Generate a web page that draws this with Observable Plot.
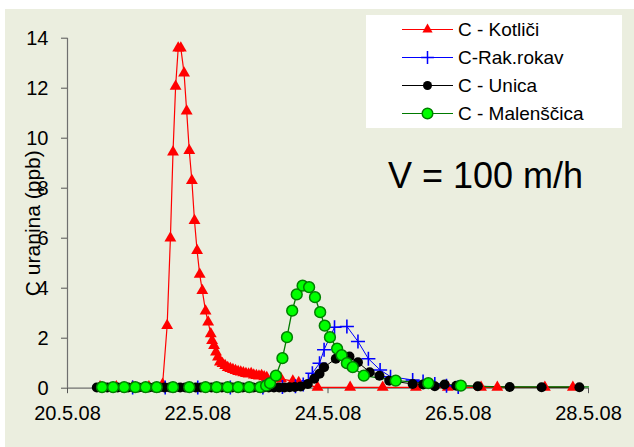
<!DOCTYPE html>
<html><head><meta charset="utf-8">
<script src="https://cdn.jsdelivr.net/npm/d3@7"></script>
<script src="https://cdn.jsdelivr.net/npm/@observablehq/plot@0.6"></script>
<style>
body{margin:0;background:#fff;font-family:"Liberation Sans",Arial,sans-serif;}
#wrap{position:absolute;left:5px;top:9px;width:629px;height:438px;background:#EBEEDF;overflow:hidden}
#wrap svg{position:absolute;left:0;top:0}
</style></head><body><div id="wrap"></div>
<script>
// x = days since 20.5.08 00:00
const xTicks = [0, 2, 4, 6, 8];
const xTickLabels = ["20.5.08", "22.5.08", "24.5.08", "26.5.08", "28.5.08"];
const yTicks = [0, 2, 4, 6, 8, 10, 12, 14];
const yLabel = "C uranina (ppb)";
const annotation = "V = 100 m/h";
const seriesNames = ["C - Kotliči", "C-Rak.rokav", "C - Unica", "C - Malenščica"];

const redT = [0.50, 0.75, 1.00, 1.25, 1.46, 1.53, 1.58, 1.62, 1.66, 1.70, 1.74, 1.79, 1.83, 1.87, 1.91, 1.95, 1.99, 2.03, 2.07, 2.12, 2.16, 2.20, 2.22, 2.25, 2.28, 2.31, 2.34, 2.38, 2.42, 2.46, 2.50, 2.54, 2.58, 2.62, 2.66, 2.70, 2.74, 2.78, 2.82, 2.86, 2.90, 2.94, 2.98, 3.02, 3.06, 3.15, 3.28, 3.46, 3.55, 3.84, 4.34, 4.84, 5.35, 5.84, 6.35, 6.60, 7.33, 7.76];
const redV = [0.05, 0.05, 0.05, 0.05, 0.15, 2.5, 6.0, 9.44, 12.07, 13.6, 13.6, 12.6, 11.08, 9.5, 8.3, 6.7, 5.5, 4.55, 3.9, 3.08, 2.64, 2.17, 1.9, 1.7, 1.44, 1.24, 1.04, 0.98, 0.9, 0.82, 0.78, 0.74, 0.7, 0.66, 0.64, 0.61, 0.58, 0.56, 0.58, 0.52, 0.5, 0.48, 0.5, 0.45, 0.42, 0.36, 0.37, 0.28, 0.22, 0.03, 0.03, 0.03, 0.03, 0.03, 0.03, 0.03, 0.03, 0.03];

const blueT = [1.0, 1.5, 2.0, 2.5, 3.0, 3.3, 3.5, 3.62, 3.70, 3.76, 3.87, 3.94, 4.10, 4.29, 4.46, 4.62, 4.80, 4.96, 5.30, 5.46, 5.64, 5.82, 6.0];
const blueV = [0.03, 0.03, 0.03, 0.03, 0.03, 0.05, 0.08, 0.15, 0.3, 0.6, 1.0, 1.54, 2.44, 2.47, 1.87, 1.18, 0.73, 0.46, 0.33, 0.27, 0.17, 0.1, 0.05];

const blackT = [0.45, 0.53, 0.61, 0.69, 0.77, 0.85, 0.93, 1.01, 1.09, 1.17, 1.25, 1.33, 1.41, 1.49, 1.57, 1.65, 1.73, 1.81, 1.89, 1.97, 2.05, 2.13, 2.21, 2.29, 2.37, 2.45, 2.53, 2.61, 2.69, 2.77, 2.85, 2.93, 3.01, 3.09, 3.17, 3.25, 3.33, 3.41, 3.49, 3.58, 3.69, 3.79, 3.87, 3.94, 4.12, 4.33, 4.46, 4.64, 4.79, 4.94, 5.30, 5.46, 5.64, 5.79, 5.97, 6.30, 6.79, 7.28, 7.86];
const blackV = [0.03, 0.03, 0.03, 0.03, 0.03, 0.03, 0.03, 0.03, 0.03, 0.03, 0.03, 0.03, 0.03, 0.03, 0.03, 0.03, 0.03, 0.03, 0.03, 0.03, 0.03, 0.03, 0.03, 0.03, 0.03, 0.03, 0.03, 0.03, 0.03, 0.03, 0.03, 0.03, 0.03, 0.03, 0.03, 0.03, 0.03, 0.04, 0.05, 0.07, 0.17, 0.38, 0.58, 0.84, 1.18, 1.27, 1.04, 0.64, 0.5, 0.3, 0.17, 0.15, 0.08, 0.15, 0.1, 0.08, 0.05, 0.04, 0.04];

const greenT = [0.53, 0.70, 0.87, 1.04, 1.20, 1.37, 1.62, 1.87, 2.12, 2.29, 2.46, 2.62, 2.79, 2.96, 3.05, 3.11, 3.20, 3.30, 3.37, 3.45, 3.52, 3.61, 3.71, 3.80, 3.88, 3.95, 4.03, 4.14, 4.21, 4.29, 4.38, 4.55, 5.04, 5.54, 6.04];
const greenV = [0.04, 0.04, 0.04, 0.04, 0.04, 0.04, 0.04, 0.04, 0.04, 0.04, 0.04, 0.04, 0.04, 0.04, 0.1, 0.2, 0.5, 1.2, 2.04, 3.1, 3.75, 4.1, 4.04, 3.64, 3.04, 2.5, 2.04, 1.58, 1.32, 1.0, 0.84, 0.5, 0.3, 0.2, 0.1];
// line-only continuation of the Malenščica series (no markers shown)
const greenTailT = [6.54, 7.04, 7.54, 8.0];
const greenTailV = [0.05, 0.05, 0.05, 0.05];

const zip = (T, V) => T.map((t, i) => ({t, v: V[i]}));
const red = zip(redT, redV), blue = zip(blueT, blueV), black = zip(blackT, blackV);
const green = zip(greenT, greenV), greenLine = zip(greenT.concat(greenTailT), greenV.concat(greenTailV));

const FONT = "Liberation Sans, Arial, sans-serif";
const chart = Plot.plot({
  width: 629, height: 438,
  marginLeft: 62, marginRight: 46, marginTop: 28.7, marginBottom: 59.3,
  style: {background: "transparent", fontFamily: FONT, color: "#000", overflow: "visible"},
  x: {domain: [0, 8]},
  y: {domain: [0, 14]},
  marks: [
    Plot.ruleY([0], {stroke: "#6f6f6f", strokeWidth: 1.2}),
    Plot.ruleX([0], {stroke: "#6f6f6f", strokeWidth: 1.2}),
    Plot.axisX({ticks: xTicks, tickFormat: d => xTickLabels[xTicks.indexOf(d)], tickSize: 5.5, tickPadding: 12, stroke: "#555", fill: "#000", fontSize: 20, label: null}),
    Plot.axisY({ticks: yTicks, tickSize: 6, tickPadding: 13, stroke: "#555", fill: "#000", fontSize: 20, label: null}),
    Plot.text([yLabel], {frameAnchor: "left", rotate: -90, lineAnchor: "top", textAnchor: "middle", dx: -42, dy: 10, fontSize: 21, fill: "#000"}),
    Plot.line(red, {x: "t", y: "v", stroke: "#ff0000", strokeWidth: 1.2}),
    Plot.line(blue, {x: "t", y: "v", stroke: "#0000ff", strokeWidth: 1}),
    Plot.line(black, {x: "t", y: "v", stroke: "#000000", strokeWidth: 1}),
    Plot.line(greenLine, {x: "t", y: "v", stroke: "#007a00", strokeWidth: 1.3}),
    Plot.dot(red, {x: "t", y: "v", symbol: "triangle", r: 4.4, fill: "#ff0000"}),
    Plot.dot(blue, {x: "t", y: "v", symbol: "plus", r: 4.6, stroke: "#0000ff", strokeWidth: 1.6}),
    Plot.dot(black, {x: "t", y: "v", symbol: "circle", r: 5, fill: "#000000"}),
    Plot.dot(green, {x: "t", y: "v", symbol: "circle", r: 5.4, fill: "#00ff00", stroke: "#008000", strokeWidth: 1.5})
  ]
});
document.getElementById("wrap").appendChild(chart);

// legend + annotation overlay
const ov = d3.select("#wrap").append("svg").attr("width", 629).attr("height", 438).style("pointer-events", "none");
const lg = ov.append("g").attr("transform", "translate(361,6)");
lg.append("rect").attr("width", 256).attr("height", 113).attr("fill", "#fff");
const legStyle = [
  {line: "#ff0000", sym: d3.symbolTriangle, r: 3.8, fill: "#ff0000", stroke: "none", sw: 0},
  {line: "#0000ff", sym: d3.symbolPlus, r: 4.2, fill: "none", stroke: "#0000ff", sw: 1.5},
  {line: "#000000", sym: d3.symbolCircle, r: 4.5, fill: "#000", stroke: "none", sw: 0},
  {line: "#007a00", sym: d3.symbolCircle, r: 5.3, fill: "#00ff00", stroke: "#008000", sw: 1.5}
];
seriesNames.forEach((name, i) => {
  const y = 14.5 + i * 28, s = legStyle[i];
  lg.append("line").attr("x1", 36).attr("x2", 87).attr("y1", y).attr("y2", y).attr("stroke", s.line).attr("stroke-width", 1.2);
  lg.append("path").attr("transform", `translate(61.5,${y})`)
    .attr("d", d3.symbol(s.sym, Math.PI * s.r * s.r)())
    .attr("fill", s.fill).attr("stroke", s.stroke).attr("stroke-width", s.sw);
  lg.append("text").attr("x", 92).attr("y", y).attr("dy", "0.35em")
    .attr("font-family", FONT).attr("font-size", 19).attr("fill", "#000").text(name);
});
ov.append("text").attr("x", 383).attr("y", 179).attr("font-family", FONT).attr("font-size", 36).attr("fill", "#000").text(annotation);
</script>
</body></html>
